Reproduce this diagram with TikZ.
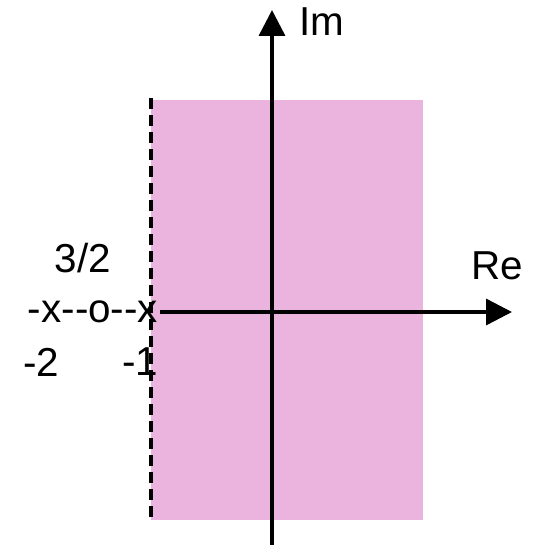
\documentclass[tikz,border=0pt]{standalone}
\usepackage{fontspec}
\setmainfont{Liberation Sans}
\usepackage{xcolor}
\usetikzlibrary{arrows.meta,positioning}
\definecolor{regpink}{RGB}{235,180,222}

\begin{document}
\begin{tikzpicture}[x=0.02cm, y=-0.02cm,
  every node/.style={font=\fontsize{23}{27}\selectfont, inner sep=0pt},
  ax/.style={line width=0.07cm, -{Triangle[length=0.52cm, width=0.52cm]}},
  bd/.style={line width=0.07cm, dash pattern=on 0.22cm off 0.12cm}]
  \useasboundingbox (0,0) rectangle (535,545);
  % region of convergence
  \fill[regpink] (151,100) rectangle (423,520);
  \draw[bd] (151,98) -- (151,520);
  % axes
  \node (pz) at (93,312) {-x-{}-o-{}-x};
  \coordinate (b) at (272,545);
  \coordinate (t) at (272,10);
  \coordinate (r) at (512,312);
  \draw[ax] (b) -- (t);
  \draw[ax] ([xshift=0.04cm]pz.east) -- (r);
  \node (im) at (322,22) {Im};
  \node (re) at (497,266) {Re};
  \node (zr) at (83,258) {3/2};
  \node (p2) at (41,362) {-2};
  \node (p1) at (140,362) {-1};
\end{tikzpicture}
\end{document}
